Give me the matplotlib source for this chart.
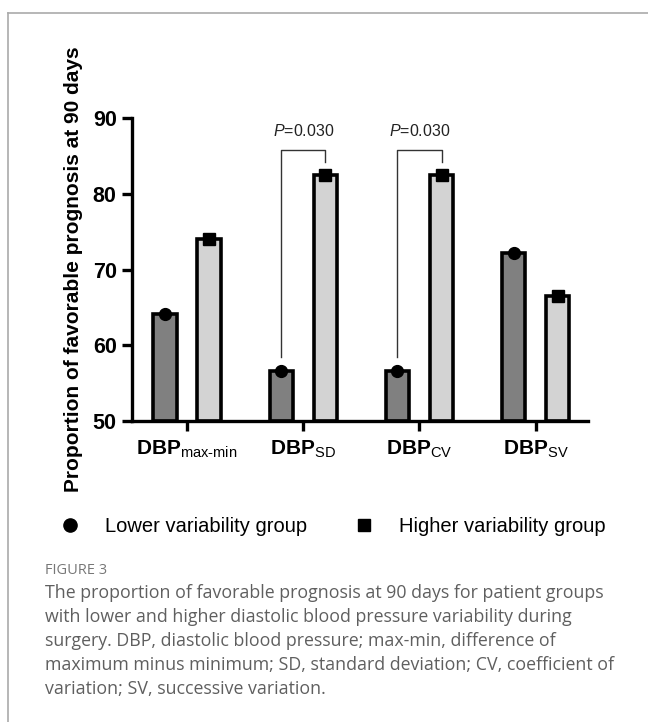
import matplotlib
matplotlib.use("Agg")
import matplotlib.pyplot as plt
import numpy as np
from matplotlib.lines import Line2D

plt.rcParams['font.family'] = ['Liberation Sans', 'DejaVu Sans']
plt.rcParams['mathtext.fontset'] = 'custom'
plt.rcParams['mathtext.rm'] = 'Liberation Sans'
plt.rcParams['mathtext.it'] = 'Liberation Sans:italic'
plt.rcParams['mathtext.bf'] = 'Liberation Sans:bold'

# data
subscripts = ["max-min", "SD", "CV", "SV"]
lower = [64.1, 56.6, 56.6, 72.2]
higher = [74.0, 82.5, 82.5, 66.5]
sig_groups = [1, 2]
p_labels = ["0.030", "0.030"]
yticks = [50, 60, 70, 80, 90]

W, H = 648, 722
fig = plt.figure(figsize=(W / 100, H / 100), dpi=100)
ax = fig.add_axes([132 / W, 1 - 421 / H, (588 - 132) / W, (421 - 118) / H])

x = np.arange(len(subscripts))
off = 0.19
bw = 0.2
ax.bar(x - off, [v - 50 for v in lower], bottom=50, width=bw, color="#808080",
       edgecolor="black", linewidth=2.6, zorder=2)
ax.bar(x + off, [v - 50 for v in higher], bottom=50, width=bw, color="#d3d3d3",
       edgecolor="black", linewidth=2.6, zorder=2)
ax.plot(x - off, lower, "o", color="black", markersize=8.5, clip_on=False, zorder=3)
ax.plot(x + off, higher, "s", color="black", markersize=8.5, clip_on=False, zorder=3)

# significance brackets
for g, p in zip(sig_groups, p_labels):
    x0, x1 = g - off, g + off
    ax.plot([x0, x0, x1, x1], [lower[g] + 1.9, 85.8, 85.8, 84.2], color="#333333",
            lw=1.0, clip_on=False, zorder=1)
    ax.text(g, 87.2, "$\\it{P}$=" + p, ha="center", va="bottom", fontsize=11.5,
            color="#222222")

ax.set_xlim(-0.473, 3.45)
ax.set_ylim(50, 90)
ax.set_yticks(yticks)
ax.set_yticklabels([str(t) for t in yticks], fontsize=15.5, fontweight="bold")
ax.set_xticks(x)
ax.set_xticklabels([r"$\mathbf{DBP}_{\mathrm{\text{%s}}}$" % s for s in subscripts],
                   fontsize=15)
for s in ["top", "right"]:
    ax.spines[s].set_visible(False)
for s in ["left", "bottom"]:
    ax.spines[s].set_linewidth(2.4)
ax.tick_params(axis="both", width=2.4, length=7, pad=4)
ax.tick_params(axis="x", pad=6)
ax.set_ylabel("Proportion of favorable prognosis at 90 days", fontsize=15,
              fontweight="bold")
ax.yaxis.set_label_coords(-0.108, 0.5)

handles = [Line2D([], [], marker="o", color="black", linestyle="none", markersize=9.5),
           Line2D([], [], marker="s", color="black", linestyle="none", markersize=9)]
fig.legend(handles, ["Lower variability group", "Higher variability group"],
           loc="center left", bbox_to_anchor=(60 / W, 1 - 527 / H), ncol=2,
           frameon=False, fontsize=14.5, handlelength=1.0, handletextpad=1.24,
           columnspacing=2.34, borderpad=0, borderaxespad=0)

# caption
fig.text(45 / W, 1 - 570 / H, "FIGURE 3", fontsize=10.5, color="#777777",
         family="Open Sans", va="center")
caption = ["The proportion of favorable prognosis at 90 days for patient groups",
           "with lower and higher diastolic blood pressure variability during",
           "surgery. DBP, diastolic blood pressure; max-min, difference of",
           "maximum minus minimum; SD, standard deviation; CV, coefficient of",
           "variation; SV, successive variation."]
for i, line in enumerate(caption):
    fig.text(45 / W, 1 - (593 + 24 * i) / H, line, fontsize=12.8, color="#5f5f5f",
             family="Open Sans", va="center")

# panel frame
fig.add_artist(Line2D([8 / W, 1], [1 - 13 / H] * 2, color="#aaaaaa", lw=1.2))
fig.add_artist(Line2D([8 / W] * 2, [0, 1 - 13 / H], color="#aaaaaa", lw=1.2))

fig.savefig("out.png", dpi=100)
